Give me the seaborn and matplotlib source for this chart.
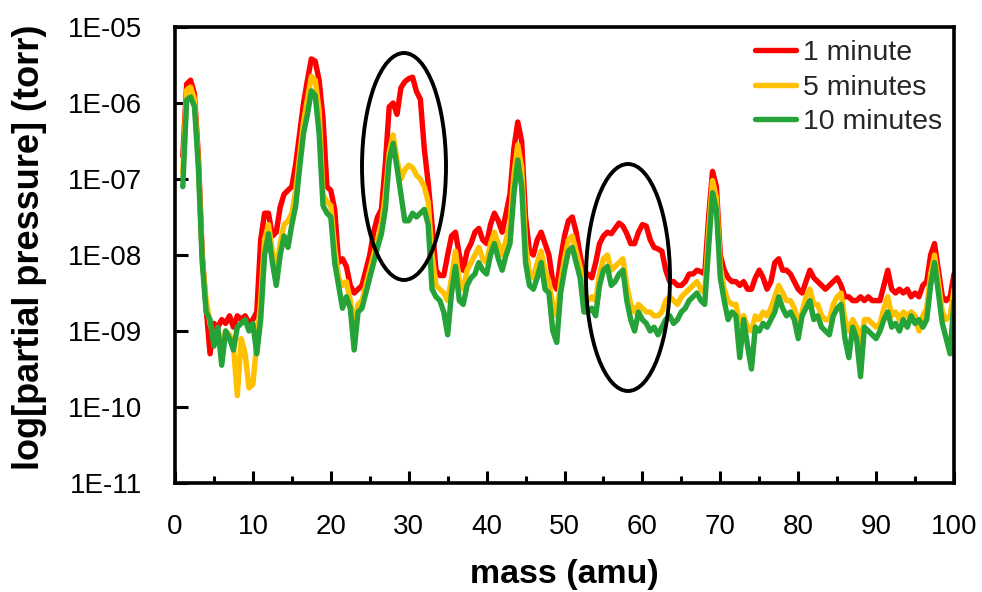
import numpy as np
import pandas as pd
import matplotlib
matplotlib.use("Agg")
import matplotlib.pyplot as plt
import seaborn as sns
from matplotlib.patches import Ellipse
from matplotlib.ticker import MultipleLocator, FixedLocator, FuncFormatter, NullLocator
from matplotlib.lines import Line2D

# ---------------- data (log10 of partial pressure, torr) ----------------
series_names = ["1 minute", "5 minutes", "10 minutes"]
series_colors = ["#FF0000", "#FFC000", "#25A238"]
mass_start = 1.0   # amu
mass_step = 0.5    # amu

log_p_1min = [
    -6.7, -5.75, -5.70, -5.88, -6.7, -8.0, -8.7, -9.3, -8.9, -8.95,
    -8.85, -8.9, -8.8, -8.95, -8.8, -8.85, -8.8, -8.9, -8.85, -8.75,
    -7.8, -7.45, -7.45, -7.75, -7.7, -7.37, -7.2, -7.15, -7.1, -6.8,
    -6.4, -6.0, -5.7, -5.42, -5.45, -5.7, -6.2, -7.1, -7.15, -7.4,
    -8.1, -8.05, -8.15, -8.4, -8.5, -8.45, -8.4, -8.2, -8.0, -7.7,
    -7.5, -7.4, -6.8, -6.05, -6.0, -6.15, -5.8, -5.72, -5.68, -5.66,
    -5.85, -5.95, -6.6, -7.05, -7.6, -8.2, -8.27, -8.27, -8.0, -7.75,
    -7.7, -8.0, -8.2, -7.95, -7.85, -7.7, -7.65, -7.8, -7.85, -7.6,
    -7.45, -7.55, -7.7, -7.45, -7.2, -6.6, -6.25, -6.5, -7.5, -7.95,
    -8.0, -7.8, -7.7, -7.85, -8.0, -8.35, -8.45, -8.05, -7.75, -7.55,
    -7.5, -7.7, -8.0, -8.25, -8.25, -8.3, -8.1, -7.85, -7.75, -7.7,
    -7.72, -7.65, -7.58, -7.62, -7.72, -7.85, -7.85, -7.7, -7.6, -7.62,
    -7.8, -7.9, -7.92, -7.95, -8.2, -8.35, -8.35, -8.4, -8.4, -8.35,
    -8.25, -8.25, -8.2, -8.22, -8.25, -7.5, -6.9, -7.1, -8.0, -8.2,
    -8.3, -8.35, -8.35, -8.4, -8.35, -8.45, -8.45, -8.3, -8.2, -8.3,
    -8.45, -8.35, -8.1, -8.05, -8.2, -8.2, -8.25, -8.35, -8.45, -8.5,
    -8.35, -8.2, -8.3, -8.35, -8.4, -8.45, -8.4, -8.35, -8.3, -8.4,
    -8.55, -8.55, -8.6, -8.6, -8.55, -8.6, -8.55, -8.6, -8.6, -8.6,
    -8.4, -8.2, -8.45, -8.5, -8.45, -8.5, -8.45, -8.55, -8.5, -8.55,
    -8.4, -8.35, -8.0, -7.85, -8.2, -8.55, -8.6, -8.55, -8.25,
]

log_p_5min = [
    -6.92, -5.83, -5.79, -5.95, -6.8, -8.05, -8.6, -8.9, -9.1, -9.0,
    -9.2, -9.0, -9.05, -9.2, -9.85, -9.1, -9.3, -9.75, -9.7, -9.15,
    -8.6, -7.8, -7.6, -7.95, -8.2, -7.85, -7.6, -7.55, -7.45, -7.15,
    -6.7, -6.25, -5.95, -5.65, -5.7, -6.1, -7.2, -7.3, -7.35, -7.9,
    -8.3, -8.4, -8.35, -8.6, -8.9, -8.65, -8.6, -8.4, -8.2, -8.0,
    -7.8, -7.6, -7.2, -6.65, -6.42, -6.75, -7.0, -6.88, -6.82, -6.85,
    -6.95, -7.0, -7.1, -7.3, -8.0, -8.4, -8.45, -8.5, -8.6, -8.3,
    -7.95, -8.35, -8.45, -8.2, -8.1, -8.0, -7.9, -8.05, -8.1, -7.85,
    -7.7, -7.85, -8.0, -7.8, -7.6, -6.95, -6.55, -6.85, -7.85, -8.25,
    -8.3, -8.1, -7.95, -8.2, -8.35, -8.65, -8.8, -8.35, -8.05, -7.8,
    -7.75, -7.95, -8.15, -8.5, -8.6, -8.55, -8.6, -8.25, -8.05, -8.0,
    -8.2, -8.15, -8.1, -8.05, -8.4, -8.65, -8.75, -8.65, -8.7, -8.75,
    -8.75, -8.8, -8.8, -8.75, -8.6, -8.55, -8.6, -8.65, -8.55, -8.5,
    -8.45, -8.4, -8.35, -8.45, -8.5, -7.7, -7.02, -7.25, -8.15, -8.45,
    -8.6, -8.65, -8.65, -8.9, -8.8, -8.95, -9.0, -8.8, -8.85, -8.75,
    -8.8, -8.7, -8.55, -8.4, -8.5, -8.6, -8.6, -8.7, -8.9, -8.75,
    -8.55, -8.45, -8.65, -8.65, -8.8, -8.85, -8.85, -8.65, -8.55, -8.5,
    -8.85, -9.0, -8.85, -8.95, -9.15, -8.85, -8.85, -8.9, -8.95, -8.9,
    -8.7, -8.55, -8.8, -8.75, -8.85, -8.75, -8.8, -8.75, -8.8, -9.0,
    -8.8, -8.7, -8.25, -8.0, -8.35, -8.75, -8.85, -8.8, -8.45,
]

log_p_10min = [
    -7.1, -5.96, -5.92, -6.05, -6.85, -8.1, -8.75, -8.85, -9.2, -8.95,
    -9.45, -9.0, -9.1, -9.25, -8.95, -8.9, -8.85, -9.0, -8.9, -9.3,
    -8.85, -8.0, -7.72, -8.1, -8.4, -8.0, -7.75, -7.9, -7.6, -7.35,
    -6.85, -6.4, -6.15, -5.84, -5.9, -6.4, -7.35, -7.45, -7.5, -8.1,
    -8.4, -8.7, -8.55, -8.7, -9.25, -8.75, -8.7, -8.5, -8.3, -8.1,
    -7.9, -7.72, -7.4, -6.75, -6.53, -6.85, -7.2, -7.55, -7.55, -7.45,
    -7.5, -7.45, -7.4, -7.6, -8.45, -8.55, -8.6, -8.75, -9.05, -8.5,
    -8.15, -8.6, -8.65, -8.4, -8.3, -8.25, -8.1, -8.2, -8.25, -8.0,
    -7.85, -8.05, -8.2, -8.0, -7.85, -7.2, -6.75, -7.1, -8.1, -8.4,
    -8.45, -8.3, -8.1, -8.45, -8.5, -9.0, -9.15, -8.5, -8.2, -7.95,
    -7.9, -8.1, -8.3, -8.75, -8.75, -8.7, -8.8, -8.4, -8.2, -8.15,
    -8.4, -8.35, -8.25, -8.2, -8.6, -8.85, -9.0, -8.75, -8.85, -8.9,
    -9.0, -8.95, -9.05, -8.95, -8.85, -8.8, -8.9, -8.85, -8.75, -8.7,
    -8.6, -8.55, -8.5, -8.6, -8.65, -7.9, -7.18, -7.4, -8.3, -8.6,
    -8.85, -8.75, -8.8, -9.35, -8.85, -9.2, -9.5, -8.95, -9.0, -8.9,
    -8.95, -8.85, -8.75, -8.55, -8.7, -8.8, -8.75, -8.85, -9.1, -8.8,
    -8.7, -8.6, -8.85, -8.8, -8.95, -9.0, -9.05, -8.8, -8.7, -8.65,
    -9.1, -9.35, -8.95, -9.1, -9.6, -8.95, -9.0, -9.05, -9.1, -9.0,
    -8.85, -8.75, -8.95, -8.9, -9.0, -8.85, -8.95, -8.8, -8.9, -8.85,
    -8.95, -8.85, -8.4, -8.1, -8.5, -8.9, -9.1, -9.3, -8.6,
]

y_tick_exponents = [-11, -10, -9, -8, -7, -6, -5]
x_ticks = [0, 10, 20, 30, 40, 50, 60, 70, 80, 90, 100]

# ---------------- build long-form table ----------------
frames = []
for name, vals in zip(series_names, [log_p_1min, log_p_5min, log_p_10min]):
    m = mass_start + mass_step * np.arange(len(vals))
    frames.append(pd.DataFrame({"mass": m,
                                "pressure": 10.0 ** np.asarray(vals),
                                "series": name}))
df = pd.concat(frames, ignore_index=True)

# ---------------- plot ----------------
sns.set_theme(style="white")
plt.rcParams["font.family"] = ["Liberation Sans", "DejaVu Sans"]

fig = plt.figure(figsize=(9.82, 5.92), dpi=100)
ax = fig.add_axes([175 / 982, 109 / 592, 779 / 982, 456 / 592])

sns.lineplot(data=df, x="mass", y="pressure", hue="series",
             hue_order=series_names, palette=series_colors,
             sort=False, estimator=None, linewidth=3.9,
             legend=False, ax=ax)
for ln in ax.get_lines():
    ln.set_solid_joinstyle("round")
    ln.set_solid_capstyle("round")

ax.set_yscale("log")
ax.set_xlim(0, 100)
ax.set_ylim(1e-11, 1e-5)

ax.yaxis.set_major_locator(FixedLocator([10.0 ** e for e in y_tick_exponents]))
ax.yaxis.set_minor_locator(NullLocator())
ax.yaxis.set_major_formatter(
    FuncFormatter(lambda v, p: "1E-%02d" % abs(int(round(np.log10(v))))))
ax.xaxis.set_major_locator(FixedLocator(x_ticks))
ax.xaxis.set_minor_locator(MultipleLocator(5))

ax.tick_params(axis="both", which="major", direction="in", length=9,
               width=2.2, color="black", labelsize=20, labelcolor="black")
ax.tick_params(axis="x", which="minor", direction="in", length=5,
               width=2.2, color="black")
ax.tick_params(axis="y", which="major", pad=24)
ax.tick_params(axis="x", which="major", pad=22)
ax.tick_params(left=True, bottom=True, top=False, right=False)
ax.tick_params(axis="x", which="minor", bottom=True, top=False)

for s in ax.spines.values():
    s.set_visible(True)
    s.set_linewidth(2.6)
    s.set_color("black")

ax.set_xlabel("mass (amu)", fontsize=24.5, fontweight="bold", color="black",
              va="center")
ax.set_ylabel("log[partial pressure] (torr)", fontsize=26, fontweight="bold",
              color="black", va="center")
ax.xaxis.set_label_coords(0.5, (483 - 574) / 456)
ax.yaxis.set_label_coords((30 - 175) / 779, (483 - 247) / 456)

# legend
handles = [Line2D([], [], color=c, lw=3.9) for c in series_colors]
ax.legend(handles, series_names, loc="upper left",
          bbox_to_anchor=((755 - 175) / 779, (483 - 40) / 456),
          frameon=False, fontsize=20.5, handlelength=1.45, handletextpad=0.25,
          labelspacing=0.3, borderpad=0, borderaxespad=0)

# highlight ellipses
for cx, cy in [(404, 166.5), (628, 277.5)]:
    ax.add_patch(Ellipse(((cx - 175) / 779, (483 - cy) / 456),
                         84 / 779, 227 / 456, transform=ax.transAxes,
                         fill=False, edgecolor="black", linewidth=2.8,
                         zorder=5))

fig.savefig("out.png", dpi=100, facecolor="white")
